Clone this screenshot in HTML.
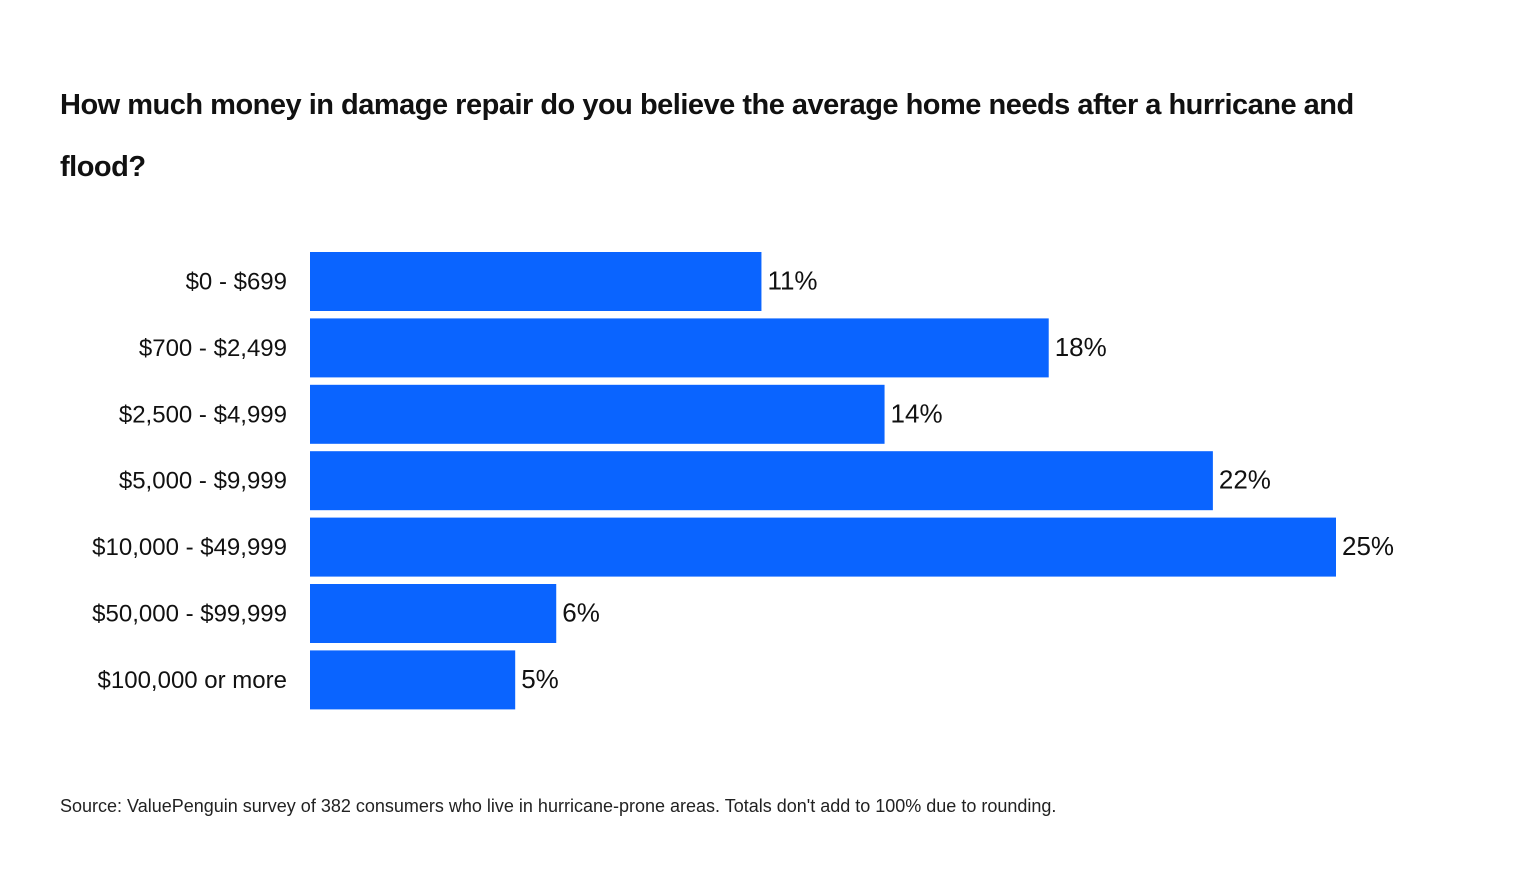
<!DOCTYPE html>
<html><head><meta charset="utf-8"><style>
body{margin:0;width:1520px;height:888px;background:#fff;font-family:"Liberation Sans",sans-serif;overflow:hidden;position:relative}
#title{position:absolute;left:60px;top:74px;width:1350px;font-size:29px;font-weight:bold;line-height:62px;color:#111;letter-spacing:-0.5px}
#source{position:absolute;left:60px;top:796px;font-size:18px;color:#222}
svg{position:absolute;left:0;top:0}
</style></head><body>
<div id="title">How much money in damage repair do you believe the average home needs after a hurricane and flood?</div>
<svg id="chart" width="1520" height="888"></svg>
<div id="source">Source: ValuePenguin survey of 382 consumers who live in hurricane-prone areas. Totals don't add to 100% due to rounding.</div>
<script>
const categories=["$0 - $699","$700 - $2,499","$2,500 - $4,999","$5,000 - $9,999","$10,000 - $49,999","$50,000 - $99,999","$100,000 or more"];
const values=[11,18,14,22,25,6,5];
const valueLabels=["11%","18%","14%","22%","25%","6%","5%"];
const ns="http://www.w3.org/2000/svg";
const svg=document.getElementById('chart');
const x0=310,pxPer=41.04,top0=252,pitch=66.4,bh=59;
const xs=v=>x0+v*pxPer;
const ys=i=>top0+i*pitch;
categories.forEach((c,i)=>{
  const r=document.createElementNS(ns,'rect');
  r.setAttribute('x',x0);r.setAttribute('y',ys(i));
  r.setAttribute('width',xs(values[i])-x0);r.setAttribute('height',bh);
  r.setAttribute('fill','#0a64ff');
  
  
  svg.appendChild(r);
  const t=document.createElementNS(ns,'text');
  t.setAttribute('x',287);t.setAttribute('y',ys(i)+bh/2+8);
  t.setAttribute('text-anchor','end');t.setAttribute('font-size','24');t.setAttribute('fill','#111');
  t.textContent=c;
  
  
  svg.appendChild(t);
  const v=document.createElementNS(ns,'text');
  v.setAttribute('x',xs(values[i])+6);v.setAttribute('y',ys(i)+bh/2+8);
  v.setAttribute('font-size','26');v.setAttribute('fill','#111');
  v.textContent=valueLabels[i];
  
  
  svg.appendChild(v);
});
</script>
</body></html>
